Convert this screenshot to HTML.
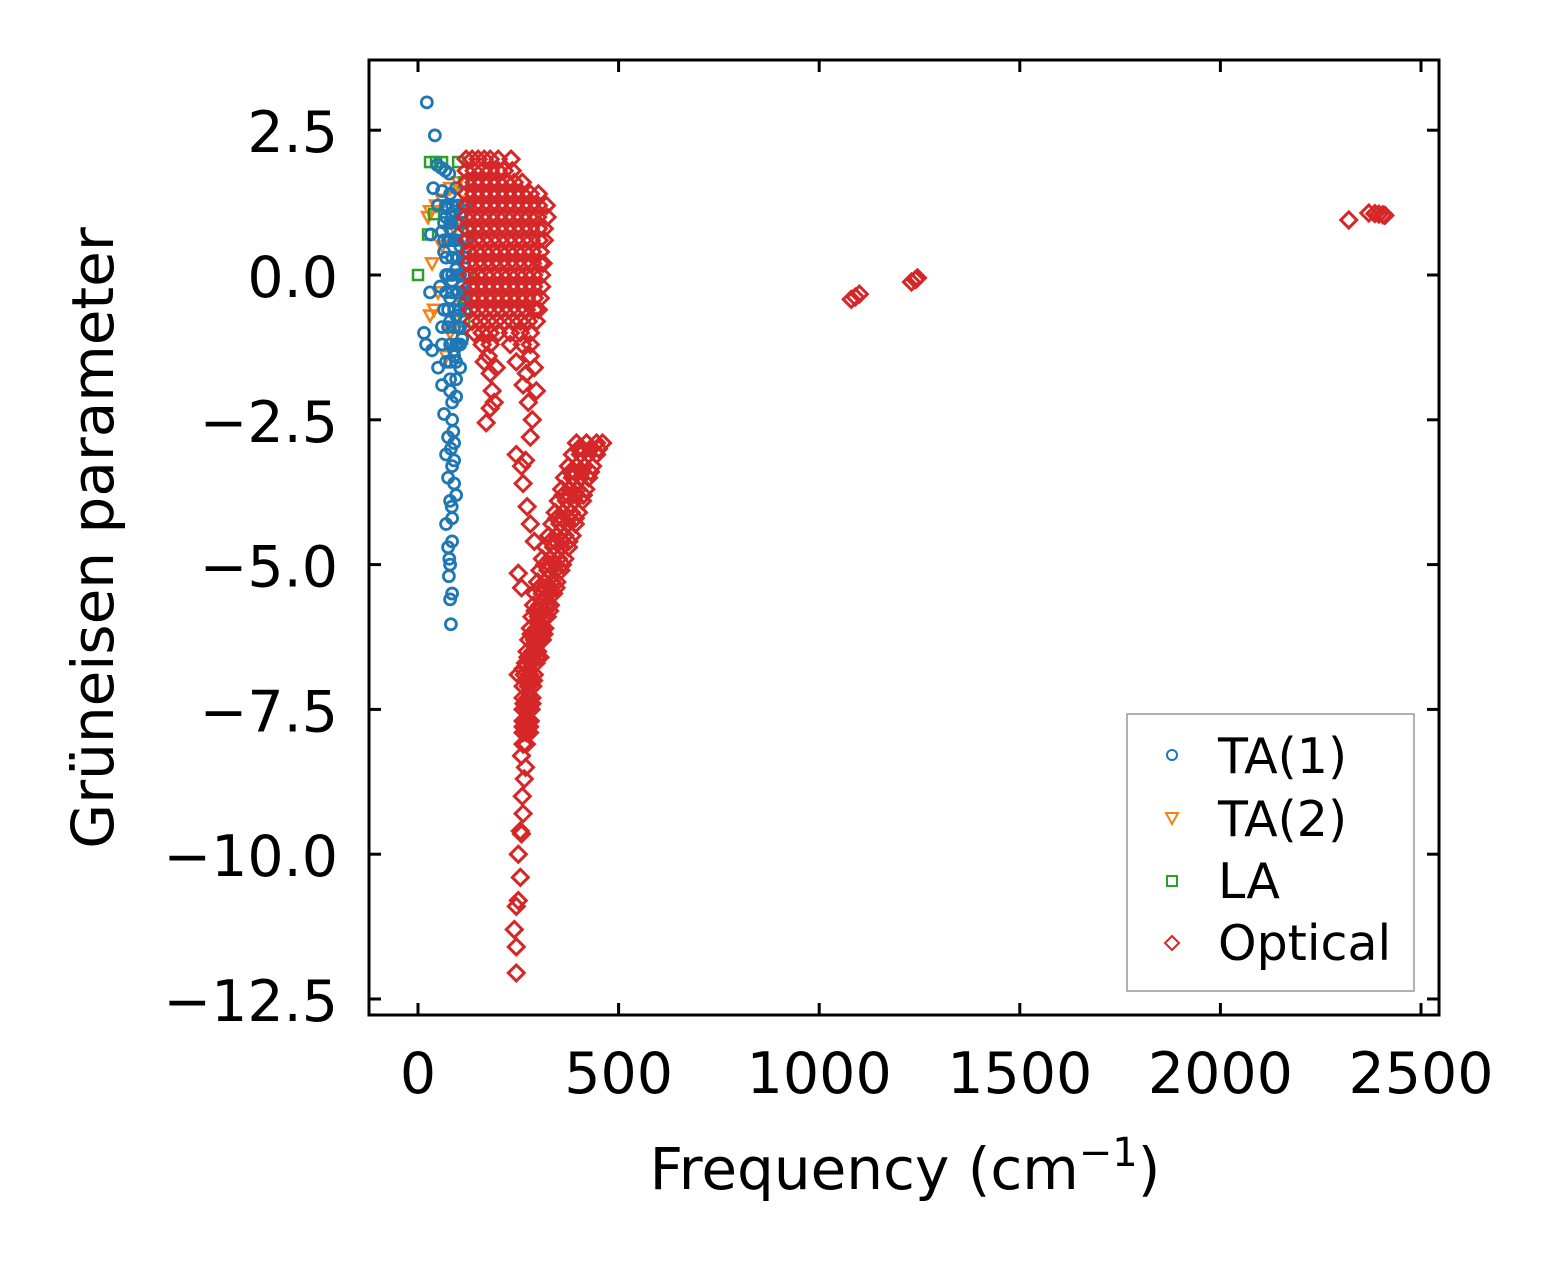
<!DOCTYPE html>
<html><head><meta charset="utf-8">
<style>
html,body{margin:0;padding:0;background:#fff;}
svg{display:block;font-family:"DejaVu Sans","Liberation Sans",sans-serif;}
</style></head>
<body>
<svg id="chart" width="1557" height="1264" viewBox="0 0 1557 1264" xmlns="http://www.w3.org/2000/svg">
<rect x="0" y="0" width="1557" height="1264" fill="#fff"/>
<g id="marks"></g>
<rect x="369" y="60" width="1070" height="955" fill="none" stroke="#000" stroke-width="3"/>
<g id="ticks"></g>
<text x="905" y="1189" font-size="58" text-anchor="middle">Frequency (cm<tspan font-size="40" dy="-23">−1</tspan><tspan dy="23">)</tspan></text>
<text transform="translate(113,538) rotate(-90)" font-size="58" text-anchor="middle">Grüneisen parameter</text>
<g>
<rect x="1127" y="714" width="287" height="277" fill="#fff" stroke="#999" stroke-width="1.5"/>
<circle cx="1172" cy="755" r="5" fill="none" stroke="#1f77b4" stroke-width="2"/>
<text x="1218" y="773" font-size="49">TA(1)</text>
<path d="M1166,813 L1178,813 L1172,824 Z" fill="none" stroke="#ff7f0e" stroke-width="2"/>
<text x="1218" y="836" font-size="49">TA(2)</text>
<rect x="1167" y="876" width="10" height="10" fill="none" stroke="#2ca02c" stroke-width="2"/>
<text x="1218" y="898" font-size="49">LA</text>
<path d="M1172,936 L1179,943 L1172,950 L1165,943 Z" fill="none" stroke="#d62728" stroke-width="2"/>
<text x="1218" y="960" font-size="49">Optical</text>
</g>
</svg>
<script>
const xTicks = [0, 500, 1000, 1500, 2000, 2500];
const yTicks = [2.5, 0, -2.5, -5, -7.5, -10, -12.5];
const yTickLabels = ["2.5", "0.0", "−2.5", "−5.0", "−7.5", "−10.0", "−12.5"];

const ta1Freq = [22,42,48,58,68,78,38,60,80,95,50,70,90,105,32,60,80,100,65,85,105,30,75,95,115,55,80,100,115,15,20,35,60,80,100,110,50,70,90,105,60,80,95,65,85,75,90,70,85,75,90,80,95,70,85,75,85,80,77,85,80,82,75,90,65,85,95,105,70,85,120,110,60,100,90,115];
const ta1Gam  = [2.98,2.41,1.9,1.85,1.8,1.75,1.5,1.45,1.4,1.5,1.2,1.15,1.1,1.05,0.7,0.75,0.8,0.9,0.4,0.3,0.5,-0.3,0.0,0.1,0.2,-0.2,-0.4,-0.3,-0.5,-1.0,-1.2,-1.3,-0.9,-0.8,-0.9,-1.1,-1.6,-1.5,-1.4,-1.6,-1.9,-2.0,-2.1,-2.4,-2.5,-2.8,-2.9,-3.1,-3.3,-3.5,-3.6,-3.9,-3.8,-4.3,-4.2,-4.7,-4.6,-5.0,-5.2,-5.5,-5.6,-6.03,0.6,0.6,-0.6,-0.1,-0.7,0.0,1.0,1.0,0.3,-0.2,-1.2,-1.2,-1.3,1.2];
// extra TA(1) points filling the dense core
const ta1CoreFreq = [70,85,100,115,65,80,95,110,65,80,95,110,120,70,85,100,115,70,85,100,115,70,85,100,115,75,90,105,118,75,90,105,80,95,105,80,95,80,95,85,88,82,84,90,78];
const ta1CoreGam  = [1.2,1.2,1.2,1.2,0.9,0.9,0.9,0.9,0.6,0.6,0.6,0.6,0.6,0.3,0.3,0.3,0.3,0.0,0.0,0.0,0.0,-0.3,-0.3,-0.3,-0.3,-0.6,-0.6,-0.6,-0.6,-0.9,-0.9,-0.9,-1.2,-1.2,-1.2,-1.5,-1.5,-1.8,-1.8,-2.2,-2.7,-3.0,-4.0,-3.2,-4.9];

const ta2Freq = [25,30,45,60,80,100,110,35,30,40,60,90,115,50,105,110,80,70,120,95];
const ta2Gam  = [1.0,1.1,1.2,1.3,1.5,1.6,1.4,0.2,-0.7,-0.6,0.5,0.8,1.0,-0.3,0.0,-0.5,-1.0,-1.4,0.6,-0.8];

const laFreq = [30,45,60,100,115,120,125,120,125,120,115,110,0,25,40,75];
const laGam  = [1.95,1.95,1.95,1.95,1.6,1.2,0.8,0.4,0.0,-0.4,-0.8,-1.1,0.0,0.7,1.05,1.2];

const optRowGam = [2.0,1.8,1.6,1.4,1.2,1.0,0.8,0.6,0.4,0.2,0.0,-0.2,-0.4,-0.6,-0.8,-1.0,-1.2,
  -2.9,-3.1,-3.3,-3.5,-3.7,-3.9,-4.1,-4.3,-4.5,-4.7,-4.9,-5.1,-5.3,-5.5,-5.7,-5.9,-6.1,-6.3,-6.5,-6.7,-6.9,-7.1,-7.3,-7.5,-7.7,-7.9,-8.1,
  -3.0,-3.4,-3.8,-4.2,-4.6,-5.0,-5.4,-5.8,-6.2,-6.6,-7.0,-7.4,-7.8];
const optRowFreq = [
 [120,135,150,165,180,200,232],
 [120,140,160,180,200,215,235],
 [120,140,160,180,200,220,240,260],
 [120,140,160,180,200,220,240,260,280,300],
 [120,140,160,180,200,220,240,260,280,300,320],
 [118,138,158,178,198,218,238,258,278,298,322],
 [120,140,160,180,200,220,240,260,280,300,315],
 [122,142,162,182,202,222,242,262,282,302,315],
 [125,145,165,185,205,225,245,265,285,305],
 [125,145,165,185,205,225,245,265,285,305,312],
 [128,148,168,188,208,228,248,268,288,308],
 [128,148,168,188,208,228,248,268,288,308],
 [130,150,170,190,210,230,250,270,290,305],
 [130,150,170,190,210,230,250,270,290,300],
 [135,155,175,195,215,235,255,275,295],
 [140,160,180,200,230,255,280],
 [160,180,230,260,280],
 [395,420,445,460],
 [385,405,425,445],
 [375,395,415,435],
 [365,385,405,425],
 [358,378,398,418],
 [350,370,390,410],
 [342,362,382,400],
 [334,354,372,392],
 [326,346,366,384],
 [318,338,358,375],
 [310,330,350,366],
 [304,324,342,356],
 [298,316,334,346],
 [292,310,326,338],
 [288,304,320,330],
 [284,300,314,322],
 [280,296,308,316],
 [276,290,302,310],
 [272,286,298],
 [268,282,294],
 [265,278,290],
 [262,275,286],
 [262,274,284],
 [262,272,282],
 [262,272,280],
 [262,270,278],
 [262,270],
 [400,410,430,450],
 [380,390,410,430],
 [362,374,394,412],
 [346,358,376,392],
 [330,342,360,376],
 [316,328,344,360],
 [302,314,330,344],
 [292,302,316,328],
 [282,292,306,314],
 [274,284,296,304],
 [268,278,288],
 [264,274,284],
 [262,270,278]
];
const optFreq = [245,245,240,245,250,255,250,258,255,262,260,265,258,268,250,262,250,258,245,258,262,268,280,275,262,245,270,280,290,295,285,272,280,290,175,180,185,180,190,170,195,165,1080,1090,1100,1230,1240,1245,2320,2370,2385,2395,2405,2410];
const optGam  = [-12.05,-11.6,-11.3,-10.9,-10.8,-10.4,-10.0,-9.65,-9.6,-9.3,-9.0,-8.7,-8.3,-8.5,-6.9,-6.8,-5.15,-5.4,-3.1,-3.3,-3.6,-3.2,-2.8,-2.2,-1.9,-1.5,-1.7,-1.4,-1.6,-2.0,-2.5,-4.0,-4.3,-4.6,-1.4,-1.7,-2.0,-2.3,-2.2,-2.55,-1.6,-1.5,-0.42,-0.38,-0.33,-0.12,-0.08,-0.05,0.95,1.07,1.06,1.05,1.04,1.03];

const X0=369, X1=1439, Y0=60, Y1=1015;
function xs(f){ return 418 + (f-0)*(1421-418)/2500; }
function ys(g){ return 275 - g*(999-275)/12.5; }
const NS="http://www.w3.org/2000/svg";
const marks=document.getElementById('marks');
const ticks=document.getElementById('ticks');
function mk(tag, attrs, parent){ const e=document.createElementNS(NS,tag); for(const k in attrs) e.setAttribute(k,attrs[k]); parent.appendChild(e); return e; }

function tri(f,g){
  const x=xs(f), y=ys(g);
  const e=mk('path',{d:`M${x-6},${y-5} L${x+6},${y-5} L${x},${y+6} Z`,fill:'none',stroke:'#ff7f0e','stroke-width':2.5},marks);
  
  
}
function sq(f,g){
  const x=xs(f), y=ys(g);
  const e=mk('rect',{x:x-5,y:y-5,width:10,height:10,fill:'none',stroke:'#2ca02c','stroke-width':2.5},marks);
  
  
}
function circ(f,g){
  const e=mk('circle',{cx:xs(f),cy:ys(g),r:5.5,fill:'none',stroke:'#1f77b4','stroke-width':2.8},marks);
  
  
}
function dia(f,g){
  const x=xs(f), y=ys(g);
  const e=mk('path',{d:`M${x},${y-8} L${x+8},${y} L${x},${y+8} L${x-8},${y} Z`,fill:'none',stroke:'#d62728','stroke-width':3},marks);
  
  
}
ta2Freq.forEach((f,i)=>tri(f,ta2Gam[i]));
laFreq.forEach((f,i)=>sq(f,laGam[i]));
ta1Freq.forEach((f,i)=>circ(f,ta1Gam[i]));
ta1CoreFreq.forEach((f,i)=>circ(f,ta1CoreGam[i]));
optRowGam.forEach((g,i)=>optRowFreq[i].forEach(f=>dia(f,g)));
optFreq.forEach((f,i)=>dia(f,optGam[i]));

xTicks.forEach(t=>{
  const x=xs(t);
  const a=mk('line',{x1:x,x2:x,y1:Y1,y2:Y1-12,stroke:'#000','stroke-width':3},ticks);
  
  
  const b=mk('line',{x1:x,x2:x,y1:Y0,y2:Y0+12,stroke:'#000','stroke-width':3},ticks);
  
  
  const l=mk('text',{x:x,y:1093,'font-size':57,'text-anchor':'middle'},ticks);
  l.textContent=String(t);
  
  
});
yTicks.forEach((t,i)=>{
  const y=ys(t);
  const a=mk('line',{x1:X0,x2:X0+12,y1:y,y2:y,stroke:'#000','stroke-width':3},ticks);
  
  
  const b=mk('line',{x1:X1,x2:X1-12,y1:y,y2:y,stroke:'#000','stroke-width':3},ticks);
  
  
  const l=mk('text',{x:338,y:y+22,'font-size':57,'text-anchor':'end'},ticks);
  l.textContent=yTickLabels[i];
  
  
});
</script>
</body></html>
